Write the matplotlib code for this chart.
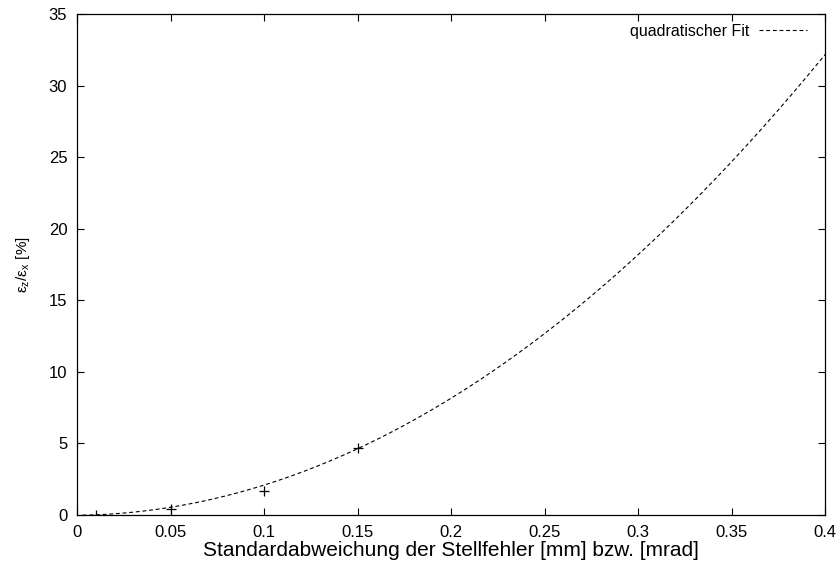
import numpy as np
import matplotlib
matplotlib.use("Agg")
import matplotlib.pyplot as plt

plt.rcParams['font.family'] = ['Liberation Sans', 'DejaVu Sans']
plt.rcParams['mathtext.default'] = 'regular'

# measured points
sigma = [0.01, 0.05, 0.1, 0.15]
ratio = [0.0, 0.4, 1.7, 4.7]

# quadratic fit a*x^2 + b*x + c
fit_a = 198.0
fit_b = 1.3
fit_c = -0.02

x_ticks = [0, 0.05, 0.1, 0.15, 0.2, 0.25, 0.3, 0.35, 0.4]
x_labels = ["0", "0.05", "0.1", "0.15", "0.2", "0.25", "0.3", "0.35", "0.4"]
y_ticks = [0, 5, 10, 15, 20, 25, 30, 35]

fig = plt.figure(figsize=(8.37, 5.66), dpi=100)
ax = fig.add_axes([0.0920, 0.0901, 0.8940, 0.8852])

xf = np.linspace(0.003, 0.4, 300)
yf = fit_a * xf**2 + fit_b * xf + fit_c
ax.plot(xf, yf, color='black', linestyle=(0, (3.5, 2.5)), linewidth=0.8,
        label="quadratischer Fit")
ax.plot(sigma, ratio, linestyle='none', marker='+', color='black',
        markersize=7, markeredgewidth=0.9)

ax.set_xlim(0, 0.4)
ax.set_ylim(0, 35)
ax.set_xticks(x_ticks)
ax.set_xticklabels(x_labels)
ax.set_yticks(y_ticks)
ax.tick_params(direction='in', top=True, right=True, length=5, width=0.8,
               labelsize=12, pad=7)
for s in ax.spines.values():
    s.set_linewidth(0.9)

ax.set_xlabel("Standardabweichung der Stellfehler [mm] bzw. [mrad]", fontsize=15,
              labelpad=1)
ax.set_ylabel("$ε_z/ε_x$ [%]", fontsize=11, labelpad=12)

ax.legend(loc='upper right', bbox_to_anchor=(0.9845, 0.9928), borderaxespad=0,
          frameon=False, markerfirst=False, fontsize=11.5,
          handlelength=3.0, handletextpad=0.6)

fig.savefig("out.png", dpi=100)
